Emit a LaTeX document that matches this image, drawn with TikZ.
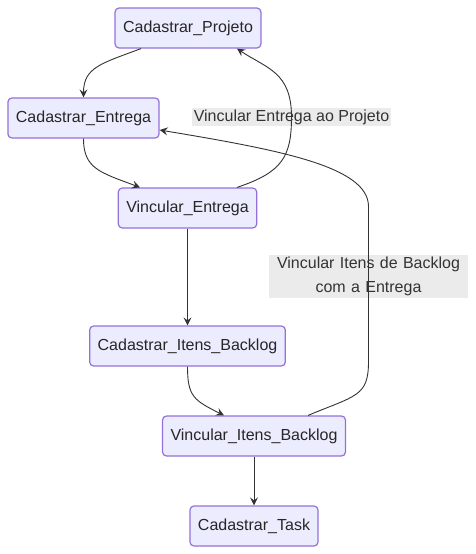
\documentclass[tikz,border=0pt]{standalone}
\usepackage{fontspec}
\setmainfont{Liberation Sans}
\usetikzlibrary{arrows.meta}

\definecolor{boxfill}{HTML}{ECECFF}
\definecolor{boxline}{HTML}{9370DB}
\definecolor{ink}{HTML}{333333}
\definecolor{lblgray}{HTML}{E8E8E8}

\tikzset{
  box/.style={draw=boxline, fill=boxfill, line width=1.2pt, rounded corners=4pt,
    minimum height=40pt, inner xsep=8pt, text=black!85,
    font=\fontsize{16}{19}\selectfont},
  lbl/.style={fill=lblgray, fill opacity=0.85, text opacity=1, text=ink,
    inner xsep=2pt, inner ysep=2pt, align=center,
    font=\fontsize{16}{24}\selectfont},
  edge/.style={draw=ink, line width=0.9pt, -{Stealth[length=8pt,width=8pt,inset=3pt]}}
}

\begin{document}
\begin{tikzpicture}[x=1pt,y=-1pt]

  % Frame
  \useasboundingbox (0,0) rectangle (476,554);

  % Steps
  \node[box] (proj) at (188,28)    {Cadastrar\_Projeto};
  \node[box] (cent) at (83.5,118)  {Cadastrar\_Entrega};
  \node[box] (vent) at (187.5,208) {Vincular\_Entrega};
  \node[box] (cib)  at (187.5,346) {Cadastrar\_Itens\_Backlog};
  \node[box] (vib)  at (254,436)   {Vincular\_Itens\_Backlog};
  \node[box] (task) at (254,526)   {Cadastrar\_Task};

  % Edge labels
  \node[lbl] (lblproj) at (291.5,117) {Vincular Entrega ao Projeto};
  \node[lbl, text width=195pt] (lblitens) at (368.5,276.5) {Vincular Itens de Backlog\\com a Entrega};

  % Connectors
  \draw[edge] ([xshift=-47pt]proj.south) .. controls +(-40,15) and +(0,-30) .. (cent.north);
  \draw[edge] (cent.south) .. controls +(0,30) and +(-40,-15) .. ([xshift=-47.5pt]vent.north);
  \draw[edge] ([xshift=49.5pt]vent.north) .. controls +(45,-15) and +(0,40) .. (lblproj.center)
    .. controls +(0,-45) and +(30,20) .. ([xshift=49pt]proj.south);
  \draw[edge] (vent.south) -- (cib.north);
  \draw[edge] (cib.south) .. controls +(0,30) and +(-30,-15) .. ([xshift=-30pt]vib.north);
  \draw[edge] ([xshift=54pt]vib.north) .. controls +(48,-20) and +(0,35) .. ([yshift=-85pt]lblitens.center)
    -- ([yshift=70pt]lblitens.center)
    .. controls +(0,-40) and +(120,20) .. ([yshift=-12pt]cent.east);
  \draw[edge] (vib.south) -- (task.north);

\end{tikzpicture}
\end{document}
